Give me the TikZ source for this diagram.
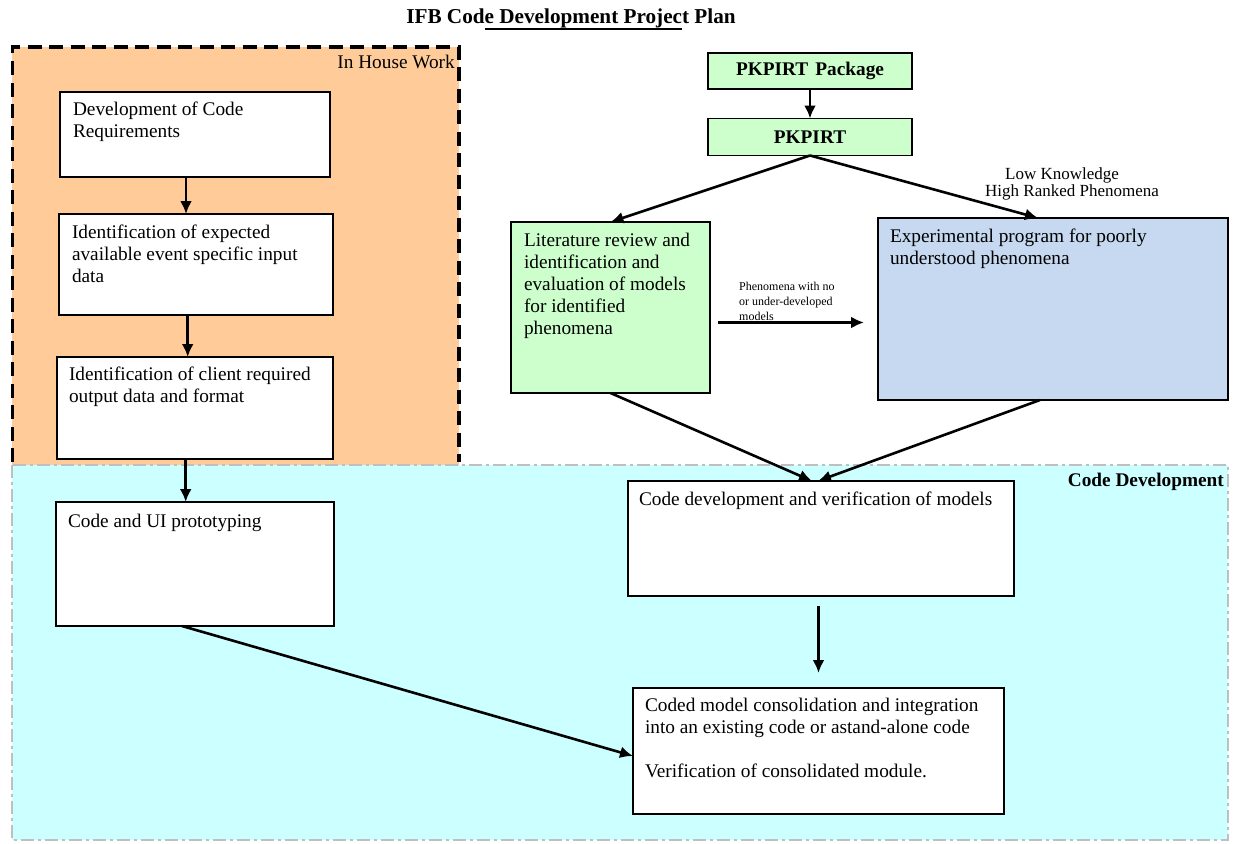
\documentclass[tikz,border=0pt]{standalone}
\usepackage{fontspec}
\setmainfont{Liberation Serif}
\usetikzlibrary{arrows.meta,calc}
\definecolor{housefill}{HTML}{FFCC99}
\definecolor{devfill}{HTML}{CCFFFF}
\definecolor{greenfill}{HTML}{CCFFCC}
\definecolor{bluefill}{HTML}{C6D9F1}
\definecolor{devborder}{HTML}{BFBFBF}
\newcommand{\myul}[1]{\setbox0\hbox{#1}\rlap{\rule[-6.2pt]{\wd0}{1.8pt}}\box0}
\newcommand{\boxbody}[4]{\parbox[t][#1][t]{#2}{\raggedright\rule{0pt}{#3}#4}}
\begin{document}
\begin{tikzpicture}[x=1pt,y=-1pt,
  flow/.style={line width=2.6pt,-{Latex[length=13pt,width=12pt]}},
  stepbox/.style={draw,line width=1.3pt,fill=white,anchor=north west,inner ysep=0pt,outer sep=0pt,font=\fontsize{19.3}{22}\selectfont},
  greenbox/.style={stepbox,fill=greenfill},
  bluebox/.style={stepbox,fill=bluefill},
  pkgbox/.style={draw,line width=1.3pt,fill=greenfill,inner sep=0pt,outer sep=0pt,minimum width=204pt,font=\bfseries\fontsize{19.3}{22}\selectfont},
  bodytext/.style={inner sep=0pt,font=\fontsize{19.3}{22}\selectfont},
  boldtext/.style={inner sep=0pt,font=\bfseries\fontsize{19.3}{22}\selectfont},
  lowtext/.style={inner sep=0pt,anchor=base west,font=\fontsize{17}{18}\selectfont},
]
\useasboundingbox (0,0) rectangle (1233,843);
% regions
\fill[housefill] (12,47) rectangle (459,465);
\draw[line width=3.3pt,dash pattern=on 14pt off 7.5pt] (12.5,462) -- (12.5,47) -- (459,47) -- (459,462);
\draw[devborder,fill=devfill,line width=2.8pt,dash pattern=on 13pt off 4pt on 3pt off 4pt] (12,465) rectangle (1228,840);

% titles
\node[inner sep=0pt,anchor=base,font=\bfseries\fontsize{21.2}{24}\selectfont] (title) at (571,24) {IFB Cod\myul{e Development Projec}t Plan};
\node[bodytext,anchor=base east] (houselbl) at (455,68) {In House Work};
\node[boldtext,anchor=base east] (devlbl) at (1224,486) {Code Development};

% left column
\node[stepbox,inner xsep=13pt] (b1) at (60,92) {\boxbody{85pt}{244pt}{23pt}{Development of Code\\Requirements}};
\node[stepbox,inner xsep=13pt] (b2) at (59,214) {\boxbody{101pt}{248pt}{24pt}{Identification of expected\\available event specific input\\data}};
\node[stepbox,inner xsep=12pt] (b3) at (57,357) {\boxbody{102pt}{252pt}{23pt}{Identification of client required\\output data and format}};
\node[stepbox,inner xsep=12pt] (b4) at (56,502) {\boxbody{124pt}{254pt}{25pt}{Code and UI prototyping}};

% right part
\node[pkgbox,minimum height=36pt] (pkg) at (810,71) {PKPIRT\hspace{0.37em}Package};
\node[pkgbox,minimum height=37pt] (pkpirt) at (810,137) {PKPIRT};
\node[greenbox,inner xsep=13pt] (lit) at (511,222) {\boxbody{171pt}{173pt}{24pt}{Literature review and\\identification and\\evaluation of models\\for identified\\phenomena}};
\node[bluebox,inner xsep=12pt] (exp) at (878,218) {\boxbody{182pt}{326pt}{24pt}{Experimental program for poorly\\understood phenomena}};
\node[stepbox,inner xsep=11pt] (cdev) at (628,481) {\boxbody{115pt}{364pt}{24pt}{Code development and verification of models}};
\node[stepbox,inner xsep=12pt] (coded) at (633,688) {\boxbody{126pt}{347pt}{23pt}{Coded model consolidation and integration\\into an existing code or astand-alone code\\[22pt]Verification of consolidated module.}};

% labels
\node[lowtext] (low1) at (1005,179) {Low Knowledge};
\node[lowtext] (low2) at (985,196.7) {High Ranked Phenomena};
\node[inner sep=0pt,anchor=north west] (phenlbl) at (739,280) {\parbox[t]{110pt}{\fontsize{12}{15}\selectfont\rule{0pt}{10.7pt}Phenomena with no\\or under-developed\\models}};

% connectors
\draw[flow] ([xshift=-9pt]b1.south) -- ([xshift=-9pt]b1.south |- b2.north);
\draw[flow] ([xshift=-8.3pt]b2.south) -- ([xshift=-8.3pt]b2.south |- b3.north);
\draw[flow] ([xshift=-9.3pt]b3.south) -- ([xshift=-9.3pt]b3.south |- b4.north);
\draw[flow] (pkg.south) -- (pkpirt.north);
\draw[flow] (pkpirt.south) -- (lit.north);
\draw[flow] (pkpirt.south) -- ([xshift=-15pt]exp.north);
\coordinate (ls) at ([xshift=8pt,yshift=-15pt]lit.east);
\draw[flow] (ls) -- ($(ls -| exp.west)+(-14,0)$);
\draw[flow] (lit.south) -- ([xshift=-9pt]cdev.north);
\draw[flow] ([xshift=-13pt]exp.south) -- ([xshift=-3pt]cdev.north);
\coordinate (cs) at ([xshift=-2.5pt,yshift=-10pt]cdev.south);
\coordinate (ce) at ([yshift=15pt]coded.north);
\draw[flow] (cs) -- (cs |- ce);
\draw[flow] ([xshift=-13pt]b4.south) -- ([yshift=-5pt]coded.west);
\end{tikzpicture}
\end{document}
